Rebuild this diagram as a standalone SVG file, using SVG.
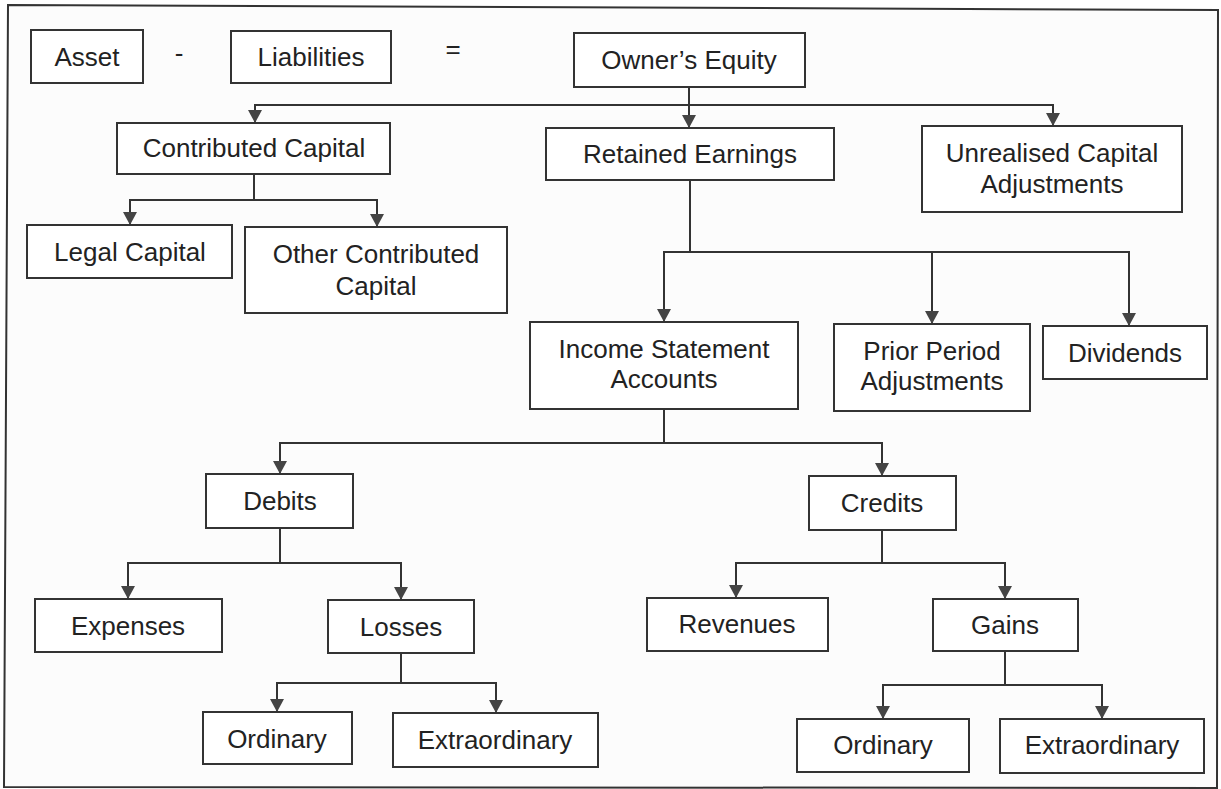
<svg xmlns="http://www.w3.org/2000/svg" width="1221" height="789" viewBox="0 0 1221 789">
<style>
.box{fill:#ffffff;stroke:#333333;stroke-width:2}
.t{font-family:"Liberation Sans",Arial,sans-serif;font-size:26px;fill:#222222;text-anchor:middle}
.c{fill:none;stroke:#333333;stroke-width:2}
</style>
<defs>
<marker id="ah" viewBox="0 0 13 14" refX="13" refY="7" markerWidth="13" markerHeight="14" markerUnits="userSpaceOnUse" orient="auto">
<path d="M0,0 L13,7 L0,14 z" fill="#444444"/>
</marker>
</defs>
<rect x="0" y="0" width="1221" height="789" fill="#ffffff"/>
<path d="M8,5 L1218,10 L1217,788 L4,787 Z" fill="#fcfcfc" stroke="#333333" stroke-width="2"/>
<g id="connectors">
<path class="c" d="M689,87 V128" marker-end="url(#ah)"/>
<path class="c" d="M689,105 H255 V123" marker-end="url(#ah)"/>
<path class="c" d="M689,105 H1053 V126" marker-end="url(#ah)"/>
<path class="c" d="M254,174 V200 H130 V225" marker-end="url(#ah)"/>
<path class="c" d="M254,200 H377 V227" marker-end="url(#ah)"/>
<path class="c" d="M690,180 V252 H664 V322" marker-end="url(#ah)"/>
<path class="c" d="M690,252 H932 V324" marker-end="url(#ah)"/>
<path class="c" d="M690,252 H1129 V326" marker-end="url(#ah)"/>
<path class="c" d="M664,409 V443 H280 V474" marker-end="url(#ah)"/>
<path class="c" d="M664,443 H882 V476" marker-end="url(#ah)"/>
<path class="c" d="M280,528 V563 H128 V599" marker-end="url(#ah)"/>
<path class="c" d="M280,563 H401 V600" marker-end="url(#ah)"/>
<path class="c" d="M401,653 V683 H277 V712" marker-end="url(#ah)"/>
<path class="c" d="M401,683 H496 V713" marker-end="url(#ah)"/>
<path class="c" d="M882,530 V563 H736 V598" marker-end="url(#ah)"/>
<path class="c" d="M882,563 H1005 V599" marker-end="url(#ah)"/>
<path class="c" d="M1005,651 V685 H883 V719" marker-end="url(#ah)"/>
<path class="c" d="M1005,685 H1102 V719" marker-end="url(#ah)"/>
</g>
<g id="asset"><rect class="box" x="31" y="30" width="112" height="53"/><text class="t" x="87" y="66">Asset</text></g>
<text id="minus" class="t" x="179" y="62">-</text>
<g id="liabilities"><rect class="box" x="231" y="31" width="160" height="52"/><text class="t" x="311" y="66">Liabilities</text></g>
<text id="equals" class="t" x="453" y="58">=</text>
<g id="owners-equity"><rect class="box" x="574" y="33" width="231" height="54"/><text class="t" x="689" y="69">Owner’s Equity</text></g>
<g id="contributed-capital"><rect class="box" x="117" y="123" width="273" height="51"/><text class="t" x="254" y="157">Contributed Capital</text></g>
<g id="retained-earnings"><rect class="box" x="546" y="128" width="288" height="52"/><text class="t" x="690" y="163">Retained Earnings</text></g>
<g id="unrealised"><rect class="box" x="922" y="126" width="260" height="86"/><text class="t" x="1052" y="162">Unrealised Capital</text><text class="t" x="1052" y="193">Adjustments</text></g>
<g id="legal-capital"><rect class="box" x="27" y="225" width="205" height="53"/><text class="t" x="130" y="261">Legal Capital</text></g>
<g id="other-contributed"><rect class="box" x="245" y="227" width="262" height="86"/><text class="t" x="376" y="263">Other Contributed</text><text class="t" x="376" y="295">Capital</text></g>
<g id="income-statement"><rect class="box" x="530" y="322" width="268" height="87"/><text class="t" x="664" y="358">Income Statement</text><text class="t" x="664" y="388">Accounts</text></g>
<g id="prior-period"><rect class="box" x="834" y="324" width="196" height="87"/><text class="t" x="932" y="360">Prior Period</text><text class="t" x="932" y="390">Adjustments</text></g>
<g id="dividends"><rect class="box" x="1043" y="326" width="164" height="53"/><text class="t" x="1125" y="362">Dividends</text></g>
<g id="debits"><rect class="box" x="206" y="474" width="147" height="54"/><text class="t" x="280" y="510">Debits</text></g>
<g id="credits"><rect class="box" x="809" y="476" width="147" height="54"/><text class="t" x="882" y="512">Credits</text></g>
<g id="expenses"><rect class="box" x="35" y="599" width="187" height="53"/><text class="t" x="128" y="635">Expenses</text></g>
<g id="losses"><rect class="box" x="328" y="600" width="146" height="53"/><text class="t" x="401" y="636">Losses</text></g>
<g id="ordinary-l"><rect class="box" x="203" y="712" width="149" height="52"/><text class="t" x="277" y="748">Ordinary</text></g>
<g id="extraordinary-l"><rect class="box" x="393" y="713" width="205" height="54"/><text class="t" x="495" y="749">Extraordinary</text></g>
<g id="revenues"><rect class="box" x="647" y="598" width="181" height="53"/><text class="t" x="737" y="633">Revenues</text></g>
<g id="gains"><rect class="box" x="933" y="599" width="145" height="52"/><text class="t" x="1005" y="634">Gains</text></g>
<g id="ordinary-r"><rect class="box" x="797" y="719" width="172" height="53"/><text class="t" x="883" y="754">Ordinary</text></g>
<g id="extraordinary-r"><rect class="box" x="1000" y="719" width="204" height="54"/><text class="t" x="1102" y="754">Extraordinary</text></g>
</svg>
